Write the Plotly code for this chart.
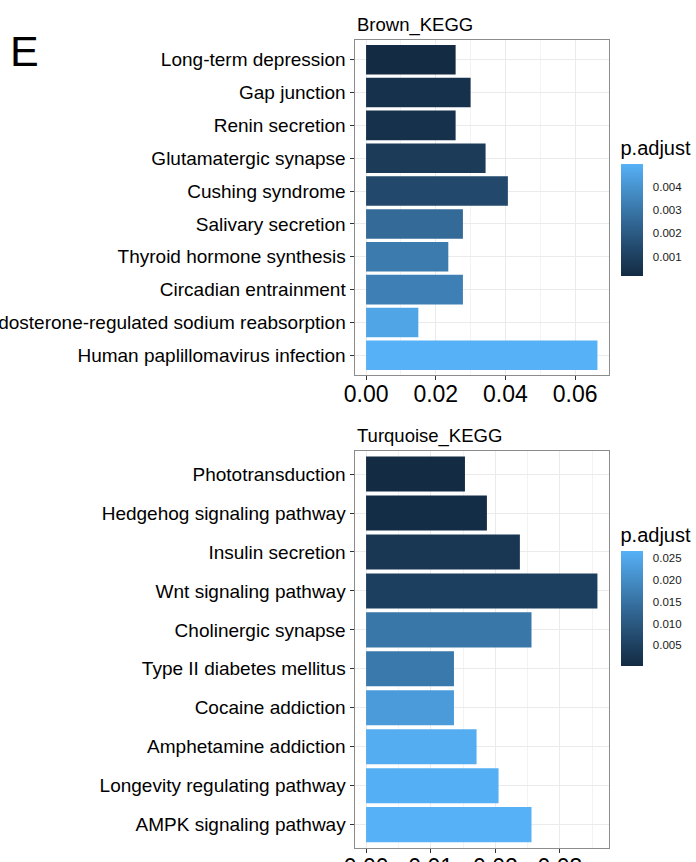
import plotly.graph_objects as go

# ---- data -------------------------------------------------------------
brown_terms = [
    "Long-term depression",
    "Gap junction",
    "Renin secretion",
    "Glutamatergic synapse",
    "Cushing syndrome",
    "Salivary secretion",
    "Thyroid hormone synthesis",
    "Circadian entrainment",
    "Aldosterone-regulated sodium reabsorption",
    "Human paplillomavirus infection",
]
brown_ratio = [0.0257, 0.0300, 0.0257, 0.0343, 0.0407, 0.0278, 0.0236, 0.0278, 0.0150, 0.0664]
brown_padj = [0.00017, 0.00041, 0.00042, 0.00079, 0.00136, 0.00256, 0.00313, 0.00332, 0.00456, 0.00494]
brown_ticks = [0.001, 0.002, 0.003, 0.004]
brown_xticks = [0.00, 0.02, 0.04, 0.06]

turq_terms = [
    "Phototransduction",
    "Hedgehog signaling pathway",
    "Insulin secretion",
    "Wnt signaling pathway",
    "Cholinergic synapse",
    "Type II diabetes mellitus",
    "Cocaine addiction",
    "Amphetamine addiction",
    "Longevity regulating pathway",
    "AMPK signaling pathway",
]
turq_ratio = [0.0153, 0.0187, 0.0238, 0.0358, 0.0256, 0.0136, 0.0136, 0.0171, 0.0205, 0.0256]
turq_padj = [0.0002, 0.0007, 0.0029, 0.0047, 0.0160, 0.0163, 0.0227, 0.0259, 0.0264, 0.0267]
turq_ticks = [0.005, 0.010, 0.015, 0.020, 0.025]
turq_xticks = [0.00, 0.01, 0.02, 0.03]

# ---- colour gradient interpolated in CIE Lab -------------------------
LOW, HIGH = "#132B43", "#56B1F7"
WHITE = (0.95047, 1.0, 1.08883)


def _to_lin(c):
    c /= 255.0
    return c / 12.92 if c <= 0.04045 else ((c + 0.055) / 1.055) ** 2.4


def _from_lin(c):
    c = 12.92 * c if c <= 0.0031308 else 1.055 * c ** (1 / 2.4) - 0.055
    return max(0, min(255, round(c * 255)))


def hex_to_lab(h):
    r, g, b = (_to_lin(int(h[i:i + 2], 16)) for i in (1, 3, 5))
    x = (0.4124 * r + 0.3576 * g + 0.1805 * b) / WHITE[0]
    y = (0.2126 * r + 0.7152 * g + 0.0722 * b) / WHITE[1]
    z = (0.0193 * r + 0.1192 * g + 0.9505 * b) / WHITE[2]
    f = lambda t: t ** (1 / 3) if t > 0.008856 else 7.787 * t + 16 / 116
    fx, fy, fz = f(x), f(y), f(z)
    return 116 * fy - 16, 500 * (fx - fy), 200 * (fy - fz)


def lab_to_rgb(L, a, b):
    fy = (L + 16) / 116
    fx = fy + a / 500
    fz = fy - b / 200
    inv = lambda t: t ** 3 if t ** 3 > 0.008856 else (t - 16 / 116) / 7.787
    x, y, z = inv(fx) * WHITE[0], inv(fy) * WHITE[1], inv(fz) * WHITE[2]
    r = 3.2406 * x - 1.5372 * y - 0.4986 * z
    g = -0.9689 * x + 1.8758 * y + 0.0415 * z
    bb = 0.0557 * x - 0.2040 * y + 1.0570 * z
    return "rgb(%d,%d,%d)" % (_from_lin(r), _from_lin(g), _from_lin(bb))


lo, hi = hex_to_lab(LOW), hex_to_lab(HIGH)
n_stops = 21
colorscale = []
for i in range(n_stops):
    t = i / (n_stops - 1)
    colorscale.append([t, lab_to_rgb(*(lo[k] + t * (hi[k] - lo[k]) for k in range(3)))])

# ---- layout geometry --------------------------------------------------
W, H = 696, 862
FONT = "Liberation Sans, Arial, Helvetica, sans-serif"
CB_X, CB_W, CB_TITLE_H = 620.5, 22, 24.3


def px_x(p):
    return p / W


def px_y(p):
    return 1 - p / H


panels = [
    dict(terms=brown_terms, ratio=brown_ratio, padj=brown_padj, cticks=brown_ticks,
         xticks=brown_xticks, title="Brown_KEGG", top=40, bottom=375, cb_top=161.7, cb_bot=276),
    dict(terms=turq_terms, ratio=turq_ratio, padj=turq_padj, cticks=turq_ticks,
         xticks=turq_xticks, title="Turquoise_KEGG", top=450.7, bottom=848, cb_top=548.3, cb_bot=665.7),
]

fig = go.Figure()
x_left, x_right = 354.5, 609

layout = dict(
    width=W, height=H,
    margin=dict(l=0, r=0, t=0, b=0, autoexpand=False),
    paper_bgcolor="white", plot_bgcolor="white",
    font=dict(family=FONT, color="black"),
    showlegend=False,
    annotations=[],
    shapes=[],
)

for i, p in enumerate(panels, start=1):
    sfx = "" if i == 1 else str(i)
    ca = "coloraxis" + sfx
    fig.add_trace(go.Bar(
        x=p["ratio"], y=p["terms"], orientation="h", width=0.9,
        marker=dict(color=p["padj"], coloraxis=ca, line=dict(width=0)),
        xaxis="x" + sfx, yaxis="y" + sfx,
        hovertemplate="%{y}<br>GeneRatio=%{x}<br>p.adjust=%{marker.color}<extra></extra>",
    ))
    xmax = max(p["ratio"])
    n = len(p["terms"])
    layout["xaxis" + sfx] = dict(
        domain=[px_x(x_left), px_x(x_right)], anchor="y" + sfx,
        range=[-0.05 * xmax, 1.05 * xmax], automargin=False,
        tickvals=p["xticks"], tickformat=".2f",
        ticks="outside", ticklen=4, tickcolor="#333333", tickwidth=1,
        ticklabelstandoff=-6,
        tickfont=dict(size=23, color="black", family=FONT),
        showgrid=True, gridcolor="#ebebeb", gridwidth=1,
        minor=dict(dtick=(p["xticks"][1] - p["xticks"][0]) / 2, showgrid=True,
                   gridcolor="#f3f3f3", gridwidth=0.6, ticks=""),
        showline=True, mirror=True, linecolor="#8c8c8c", linewidth=1,
        zeroline=False, fixedrange=True,
    )
    layout["yaxis" + sfx] = dict(
        domain=[px_y(p["bottom"]), px_y(p["top"])], anchor="x" + sfx,
        type="category", categoryorder="array", categoryarray=p["terms"],
        range=[n - 1 + 0.6, -0.6], automargin=False,
        ticks="outside", ticklen=4, tickcolor="#333333", tickwidth=1,
        tickfont=dict(size=19, color="black", family=FONT),
        showgrid=True, gridcolor="#ebebeb", gridwidth=1,
        showline=True, mirror=True, linecolor="#8c8c8c", linewidth=1,
        zeroline=False, fixedrange=True,
    )
    cmin, cmax = min(p["padj"]), max(p["padj"])
    top_ext = p["cb_top"] - CB_TITLE_H
    layout[ca] = dict(
        colorscale=colorscale, cmin=cmin, cmax=cmax,
        colorbar=dict(
            x=px_x(CB_X), xanchor="left",
            y=px_y(top_ext), yanchor="top",
            lenmode="pixels", len=p["cb_bot"] - top_ext,
            thickness=CB_W, thicknessmode="pixels",
            outlinewidth=0, xpad=0, ypad=0,
            tickvals=p["cticks"], tickformat=".3f",
            ticks="outside", ticklen=8, tickcolor="rgba(0,0,0,0)", tickwidth=1,
            tickfont=dict(size=11.5, color="#1a1a1a", family=FONT),
            title=dict(text="p.adjust", side="top", font=dict(size=20, color="black", family=FONT)),
        ),
    )
    # white tick marks drawn across both edges of the colour bar
    for v in p["cticks"]:
        yv = p["cb_bot"] - (v - cmin) / (cmax - cmin) * (p["cb_bot"] - p["cb_top"])
        for x0, x1 in ((CB_X, CB_X + 4.5), (CB_X + CB_W - 4.5, CB_X + CB_W)):
            layout["shapes"].append(dict(
                type="line", xref="paper", yref="paper",
                x0=px_x(x0), x1=px_x(x1), y0=px_y(yv), y1=px_y(yv),
                line=dict(color="white", width=1), layer="above",
            ))
    layout["annotations"].append(dict(
        text=p["title"], x=px_x(355), y=px_y(p["top"] - 15), xref="paper", yref="paper",
        xanchor="left", yanchor="middle", showarrow=False,
        font=dict(size=18.5, color="black", family=FONT),
    ))

layout["annotations"].append(dict(
    text="E", x=px_x(8), y=px_y(51), xref="paper", yref="paper",
    xanchor="left", yanchor="middle", showarrow=False,
    font=dict(size=43, color="black", family=FONT),
))

fig.update_layout(**layout)
fig.write_html("out.html")
